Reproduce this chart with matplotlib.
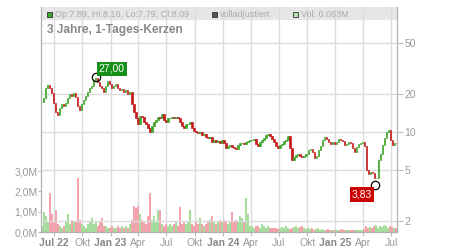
import pandas as pd
import numpy as np
import matplotlib
matplotlib.use('Agg')
import matplotlib.pyplot as plt
from matplotlib.patches import Rectangle
from matplotlib.ticker import NullLocator

plt.rcParams['font.family'] = ['Liberation Sans', 'DejaVu Sans']

# weekly closes (May 2022 .. Jul 2025)
close = [
    17.2, 18.5, 22.1, 23.4, 22.1, 20.2, 16.9, 14.3, 13.6, 15.4,
    16.6, 16.0, 16.9, 18.5, 19.8, 19.1, 20.2, 18.8, 16.0, 14.8,
    16.6, 17.8, 19.1, 20.6, 22.1, 22.9, 25.6, 26.5, 24.7, 22.9,
    22.1, 20.6, 22.9, 25.1, 23.8, 22.1, 22.9, 23.8, 22.1, 21.3,
    21.7, 20.6, 21.3, 19.8, 20.6, 16.6, 14.3, 12.8, 11.5, 13.3,
    13.1, 11.9, 11.5, 10.7, 10.0, 11.1, 11.9, 12.4, 13.1, 12.8,
    13.8, 12.4, 11.9, 12.8, 12.8, 13.1, 12.8, 13.1, 12.8, 11.9,
    11.1, 10.7, 11.5, 11.5, 11.9, 10.7, 10.1, 10.0, 9.8, 10.0,
    9.4, 9.6, 9.1, 8.9, 9.1, 8.3, 8.6, 8.3, 8.5, 8.2,
    8.6, 8.2, 7.5, 7.7, 7.9, 7.6, 7.5, 7.3, 7.9, 8.2,
    8.2, 8.0, 8.3, 8.5, 8.6, 8.6, 8.8, 8.0, 7.7, 8.3,
    8.6, 8.9, 9.4, 9.6, 9.3, 8.8, 8.3, 7.7, 7.5, 7.9,
    8.0, 8.5, 8.6, 9.3, 7.5, 6.0, 6.3, 6.6, 6.7, 6.5,
    6.3, 6.5, 6.7, 7.2, 7.3, 6.9, 6.2, 6.5, 7.2, 7.7,
    8.6, 9.1, 8.8, 8.3, 8.0, 8.3, 8.0, 8.3, 8.8, 8.6,
    8.5, 7.9, 8.0, 8.3, 8.2, 7.5, 6.9, 7.6, 8.0, 8.2,
    8.3, 7.7, 5.0, 4.65, 4.8, 4.75, 4.3, 4.3, 6.0, 6.7,
    7.9, 8.9, 10.0, 10.3, 8.6, 7.9, 8.2, 8.09,
]

# volume in millions, same weeks
volume = [
    0.3, 1.0, 0.8, 0.5, 1.9, 0.9, 0.5, 1.1, 0.4, 0.3,
    0.2, 0.3, 0.5, 0.9, 0.4, 0.6, 0.5, 0.5, 2.65, 0.6,
    0.4, 0.3, 0.2, 0.4, 0.5, 0.7, 0.4, 0.5, 0.3, 0.5,
    0.7, 0.3, 0.3, 0.2, 0.2, 0.3, 0.2, 0.2, 0.3, 0.2,
    0.3, 0.2, 0.3, 0.2, 0.4, 0.6, 1.3, 1.2, 1.3, 0.9,
    0.6, 0.5, 0.4, 0.8, 1.9, 0.6, 0.8, 0.5, 1.1, 1.1,
    0.4, 0.3, 0.4, 0.3, 0.4, 0.3, 0.4, 0.5, 0.3, 1.25,
    0.4, 0.5, 0.4, 0.5, 1.1, 0.4, 0.3, 0.5, 0.4, 0.7,
    0.4, 0.3, 0.4, 0.5, 0.6, 0.8, 0.5, 0.4, 0.5, 0.6,
    0.5, 0.6, 0.5, 0.4, 0.5, 1.0, 0.5, 0.6, 0.5, 0.8,
    0.7, 0.5, 1.65, 0.9, 0.3, 0.3, 0.2, 0.3, 0.3, 0.2,
    0.4, 0.3, 0.2, 0.3, 0.2, 0.2, 0.2, 0.2, 0.15, 0.2,
    0.25, 0.2, 0.3, 0.2, 0.15, 0.2, 0.25, 0.3, 0.2, 0.25,
    0.3, 0.2, 0.15, 0.2, 0.15, 0.2, 0.1, 0.15, 0.2, 0.1,
    0.15, 0.1, 0.1, 0.15, 0.1, 0.1, 0.1, 0.1, 0.1, 0.1,
    0.15, 0.1, 0.1, 0.1, 0.1, 0.1, 0.1, 0.1, 0.1, 0.1,
    0.1, 0.15, 0.3, 0.2, 0.25, 0.2, 0.3, 0.35, 0.2, 0.3,
    0.25, 0.35, 0.3, 0.2, 0.3, 0.25, 0.2, 0.2,
]

start, end = '2022-05-23', '2025-07-17'
tick_dates = ['2022-07-01', '2022-10-01', '2023-01-01', '2023-04-01', '2023-07-01',
              '2023-10-01', '2024-01-01', '2024-04-01', '2024-07-01', '2024-10-01',
              '2025-01-01', '2025-04-01', '2025-07-01']
tick_labels = ['Jul 22', 'Okt', 'Jan 23', 'Apr', 'Jul', 'Okt', 'Jan 24', 'Apr', 'Jul',
               'Okt', 'Jan 25', 'Apr', 'Jul']
price_ticks = [2, 5, 10, 20, 50]
vol_ticks = [0, 1, 2, 3]
vol_labels = ['0,0M', '1,0M', '2,0M', '3,0M']
hi_date, hi_val, hi_text = '2022-11-14', 27.00, '27,00'
lo_date, lo_val, lo_text = '2025-05-10', 3.83, '3,83'
legend_ohlc = 'Op:7.89, Hi:8.16, Lo:7.79, Cl:8.09'
legend_adj = 'volladjustiert'
legend_vol = 'Vol: 0.063M'

dates = pd.date_range(start, end, periods=len(close))
c = np.array(close)
o = np.array([close[0]] + close[:-1])
up = c >= o

grey_txt = '#999999'
fig = plt.figure(figsize=(4.5, 2.5), dpi=100)
axv = fig.add_axes([41 / 450, 18 / 250, 356 / 450, 225 / 250])
ax = axv.twinx()

# volume
vcol = np.where(up, '#a6dc9c', '#f2a3ab')
axv.bar(dates, volume, width=5.5, color=vcol, linewidth=0, zorder=2)
axv.set_ylim(0, 11.08)
axv.set_yticks(vol_ticks)
axv.set_yticklabels(vol_labels)
axv.set_xlim(pd.Timestamp('2022-05-20'), pd.Timestamp('2025-07-20'))
axv.set_xticks(pd.to_datetime(tick_dates))
axv.set_xticklabels(tick_labels)
axv.grid(True, axis='x', color='#dcdcdc', lw=1)
axv.set_axisbelow(True)
axv.add_patch(Rectangle((0, 213 / 225), 1, 12 / 225, transform=axv.transAxes,
                        color='#e6e6e6', zorder=0))

# candles
pcol = np.where(up, '#3fa52a', '#c41a1a')
ax.bar(dates, np.abs(c - o), bottom=np.minimum(c, o), width=3.5, color=pcol,
       edgecolor=pcol, linewidth=0.5, zorder=3)
ax.set_yscale('log')
ax.set_ylim(1.625, 96)
ax.set_yticks(price_ticks)
ax.set_yticklabels([str(t) for t in price_ticks])
ax.yaxis.set_minor_locator(NullLocator())
ax.grid(True, axis='y', color='#dcdcdc', lw=1)
ax.set_axisbelow(True)

for a in (ax, axv):
    a.spines['top'].set_visible(False)
    for s in ('left', 'right', 'bottom'):
        a.spines[s].set_color('#b0b0b0')
axv.tick_params(axis='x', length=3, pad=1.5, colors='#bbbbbb', labelcolor=grey_txt, labelsize=7.5)
axv.tick_params(axis='y', length=2, pad=0.5, colors='#bbbbbb', labelcolor=grey_txt, labelsize=7.5)
ax.tick_params(axis='y', length=4, pad=1.5, colors='#bbbbbb', labelcolor=grey_txt, labelsize=7.5)
for lab in axv.get_xticklabels():
    if ' ' in lab.get_text():
        lab.set_fontweight('bold')
        lab.set_color('#888888')

# high / low markers
ax.plot(pd.Timestamp(hi_date), hi_val, 'o', mfc='none', mec='black', ms=6, mew=0.9, zorder=5)
ax.annotate(hi_text, (pd.Timestamp(hi_date), hi_val), xytext=(11.5, 6), textcoords='offset points',
            ha='center', va='center', color='white', fontsize=7.5,
            bbox=dict(boxstyle='square,pad=0.2', fc='#16901a', ec='none'), zorder=6)
ax.plot(pd.Timestamp(lo_date), lo_val, 'o', mfc='none', mec='black', ms=6, mew=0.9, zorder=5)
ax.annotate(lo_text, (pd.Timestamp(lo_date), lo_val), xytext=(-9.5, -7), textcoords='offset points',
            ha='center', va='center', color='white', fontsize=7.5,
            bbox=dict(boxstyle='square,pad=0.2', fc='#cc0000', ec='none'), zorder=6)

# header legend and title
for x0, fc, txt in [(47, '#3aa52a', legend_ohlc), (212, '#555555', legend_adj), (293, '#b5e3ab', legend_vol)]:
    fig.patches.append(Rectangle((x0 / 450, 1 - 17 / 250), 5 / 450, 5 / 250, transform=fig.transFigure,
                                 fc=fc, ec='#333333', lw=0.6))
    fig.text((x0 + 8) / 450, 1 - 14.5 / 250, txt, fontsize=6.5, color='#aaaaaa', va='center')
fig.text(47 / 450, 1 - 30 / 250, '3 Jahre, 1-Tages-Kerzen', fontsize=8.6, fontweight='bold',
         color='#888888', va='center')

plt.savefig('out.png', dpi=100)
